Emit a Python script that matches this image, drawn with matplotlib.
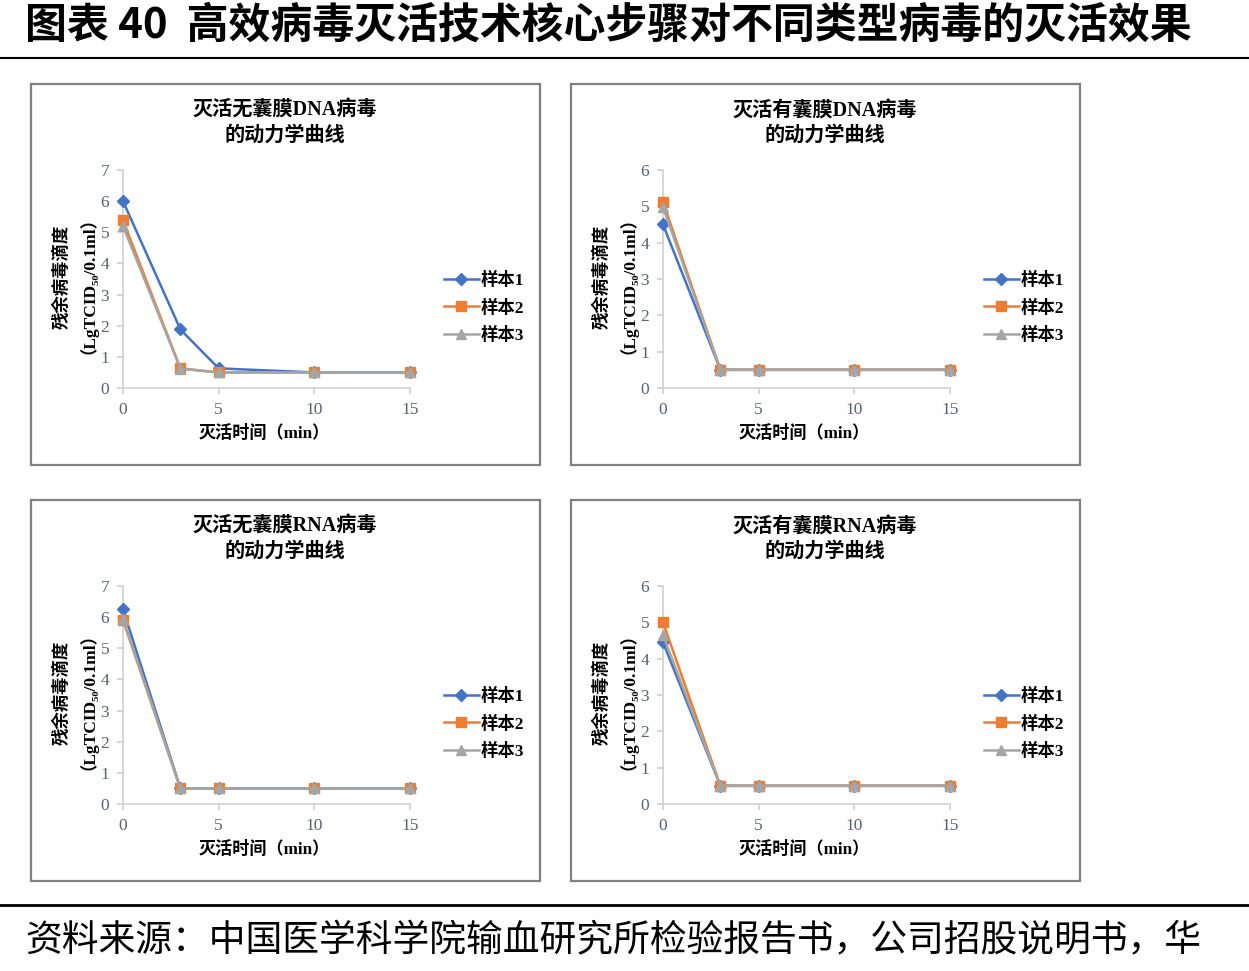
import matplotlib
matplotlib.use('Agg')
import matplotlib.pyplot as plt
from matplotlib.patches import Rectangle
from matplotlib.lines import Line2D

# data
times = [0, 3, 5, 10, 15]
series_names = ['样本1', '样本2', '样本3']

titles = ['灭活无囊膜DNA病毒\n的动力学曲线', '灭活有囊膜DNA病毒\n的动力学曲线',
          '灭活无囊膜RNA病毒\n的动力学曲线', '灭活有囊膜RNA病毒\n的动力学曲线']

dna_naked_1 = [6.0, 1.88, 0.63, 0.5, 0.5]
dna_naked_2 = [5.38, 0.63, 0.5, 0.5, 0.5]
dna_naked_3 = [5.2, 0.62, 0.5, 0.5, 0.5]

dna_env_1 = [4.5, 0.5, 0.5, 0.5, 0.5]
dna_env_2 = [5.12, 0.5, 0.5, 0.5, 0.5]
dna_env_3 = [4.98, 0.5, 0.5, 0.5, 0.5]

rna_naked_1 = [6.25, 0.5, 0.5, 0.5, 0.5]
rna_naked_2 = [5.9, 0.5, 0.5, 0.5, 0.5]
rna_naked_3 = [5.95, 0.5, 0.5, 0.5, 0.5]

rna_env_1 = [4.45, 0.5, 0.5, 0.5, 0.5]
rna_env_2 = [5.0, 0.5, 0.5, 0.5, 0.5]
rna_env_3 = [4.65, 0.5, 0.5, 0.5, 0.5]

y_max = [7, 6, 7, 6]

panel_data = [
    [dna_naked_1, dna_naked_2, dna_naked_3],
    [dna_env_1, dna_env_2, dna_env_3],
    [rna_naked_1, rna_naked_2, rna_naked_3],
    [rna_env_1, rna_env_2, rna_env_3],
]

colors = ['#4472C4', '#ED7D31', '#A5A5A5']
markers = ['D', 's', '^']
msizes = [6, 7.5, 7]

W, H = 1249, 971
fig = plt.figure(figsize=(W / 100, H / 100), dpi=100)

cjk = ['Noto Sans CJK SC', 'DejaVu Sans']
mix = ['Liberation Serif', 'Noto Sans CJK SC', 'DejaVu Sans']


def fx(px):
    return px / W


def fy(py):
    return 1 - py / H


# header / footer
fig.text(fx(25), fy(26), '图表 40  高效病毒灭活技术核心步骤对不同类型病毒的灭活效果',
         family=cjk, fontsize=30.2, fontweight='bold', va='center', ha='left')
fig.add_artist(Line2D([0, 1], [fy(58), fy(58)], color='black', lw=1.5))
fig.add_artist(Line2D([0, 1], [fy(905), fy(905)], color='black', lw=2))
fig.text(fx(25), fy(941), '资料来源：中国医学科学院输血研究所检验报告书，公司招股说明书，华',
         family=cjk, fontsize=26.5, va='center', ha='left')

# panel origins (left, top of box)
origins = [(31, 84), (571, 84), (31, 500), (571, 500)]

for i, (ox, oy) in enumerate(origins):
    # box
    fig.add_artist(Rectangle((fx(ox), fy(oy + 381)), fx(509), 381 / H,
                             fill=False, edgecolor='#808080', lw=1.6,
                             transform=fig.transFigure))
    # axes area
    ax_left = ox + 92
    ax_bot = oy + 304
    ax_top = oy + 86
    ax = fig.add_axes([fx(ax_left), fy(ax_bot), fx(287), (ax_bot - ax_top) / H])

    for s in range(3):
        ax.plot(times, panel_data[i][s], color=colors[s], lw=1.8,
                marker=markers[s], markersize=msizes[s], clip_on=False,
                label=series_names[s], zorder=3 + s)

    ax.set_xlim(0, 15)
    ax.set_ylim(0, y_max[i])
    ax.set_xticks([0, 5, 10, 15])
    ax.set_yticks(range(0, y_max[i] + 1))
    for sp in ['top', 'right']:
        ax.spines[sp].set_visible(False)
    for sp in ['left', 'bottom']:
        ax.spines[sp].set_color('#D0D0D0')
        ax.spines[sp].set_linewidth(1.2)
    ax.tick_params(direction='out', length=4, width=1.2, color='#D0D0D0',
                   labelcolor='#5A6070', labelsize=12.5)
    ax.tick_params(axis='y', pad=6)
    ax.tick_params(axis='x', pad=6)
    for lab in ax.get_xticklabels() + ax.get_yticklabels():
        lab.set_family(mix)
    ax.set_facecolor('none')

    # title
    fig.text(fx(ox + 254), fy(oy + 39), titles[i], family=mix, fontsize=14.5,
             fontweight='bold', ha='center', va='center', linespacing=1.3)
    # x label
    fig.text(fx(ox + 233), fy(oy + 349), '灭活时间（min）', family=mix,
             fontsize=12.3, fontweight='bold', ha='center', va='center')
    # y label (two lines)
    fig.text(fx(ox + 40), fy(oy + 193), '残余病毒滴度\n（LgTCID₅₀/0.1ml）', family=mix,
             fontsize=12.5, fontweight='bold', ha='center', va='center',
             rotation=90, multialignment='center', linespacing=0.92)

    leg = ax.legend(loc='center left', bbox_to_anchor=(fx(ox + 413), fy(oy + 224)),
                    bbox_transform=fig.transFigure, frameon=False,
                    prop={'family': mix, 'size': 12.5, 'weight': 'bold'},
                    handlelength=2.0, handletextpad=0.1, labelspacing=0.6,
                    borderpad=0, borderaxespad=0)

fig.savefig('out.png', dpi=100)
